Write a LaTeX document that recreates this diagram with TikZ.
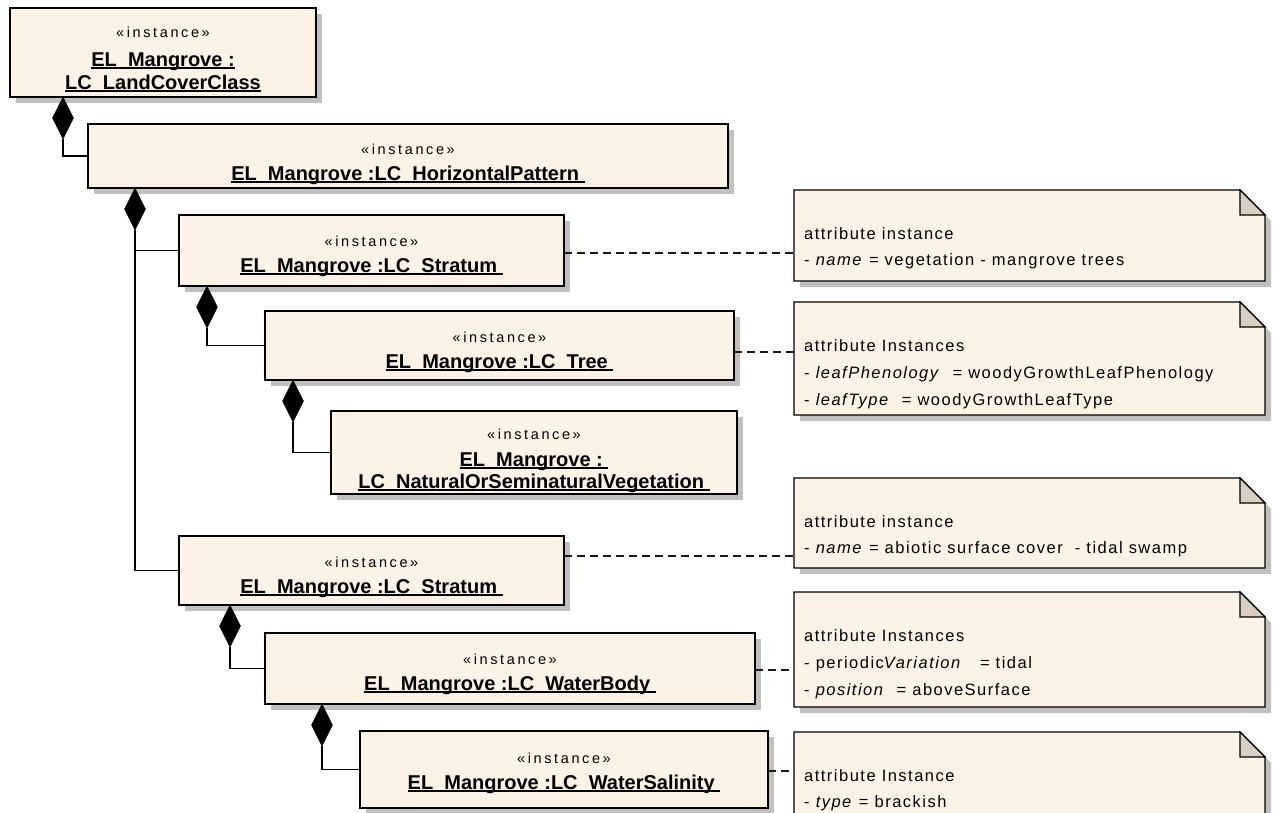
\documentclass[tikz,border=0pt]{standalone}
\usepackage{fontspec}
\setmainfont{Liberation Sans}
\newfontfamily\notefont[LetterSpace=9]{Liberation Sans}
\newfontfamily\stfont[LetterSpace=18]{Liberation Sans}
\usetikzlibrary{shapes.geometric}
\definecolor{umlfill}{RGB}{252,243,230}
\definecolor{foldfill}{RGB}{216,207,192}
\definecolor{shadowc}{RGB}{192,192,192}
\newsavebox\ulb
\newcommand\ul[1]{\sbox\ulb{#1}\rlap{\rule[-2.6pt]{\wd\ulb}{1.3pt}}\usebox\ulb}
\newcommand\ubox[5]{%
  \fill[shadowc] (#2+6,#3+6) rectangle (#4+6,#5+6);
  \node[umlbox, minimum width={(#4)-(#2)}, minimum height={(#5)-(#3)}] (#1) at ({((#2)+(#4))/2},{((#3)+(#5))/2}) {};
}
\newcommand\unote[5]{%
  \fill[shadowc] (#2+6,#3+6) -- (#4-25+6,#3+6) -- (#4+6,#3+25+6) -- (#4+6,#5+6) -- (#2+6,#5+6) -- cycle;
  \draw[line width=1.4pt, fill=umlfill, line join=miter] (#2,#3) -- (#4-25,#3) -- (#4,#3+25) -- (#4,#5) -- (#2,#5) -- cycle;
  \draw[line width=1.2pt, fill=foldfill] (#4-25,#3) -- (#4-25,#3+25) -- (#4,#3+25) -- cycle;
  \node[inner sep=0pt, outer sep=0pt, minimum width={(#4)-(#2)}, minimum height={(#5)-(#3)}] (#1) at ({((#2)+(#4))/2},{((#3)+(#5))/2}) {};
}
\begin{document}
\begin{tikzpicture}[x=1pt, y=-1pt,
  umlbox/.style={draw=black, line width=1.4pt, fill=umlfill, inner sep=0pt, outer sep=0pt},
  stereo/.style={anchor=base, inner sep=0pt, font=\stfont\fontsize{14.5}{17}\selectfont},
  objname/.style={anchor=base, inner sep=0pt, font=\bfseries\fontsize{20}{22}\selectfont},
  notetext/.style={anchor=base west, inner sep=0pt, font=\notefont\fontsize{16.5}{19}\selectfont},
  comp/.style={diamond, fill=black, draw=black, line width=0.4pt, inner sep=0pt, outer sep=0pt, minimum width=21pt, minimum height=42pt, anchor=north},
  link/.style={line width=1.3pt, draw=black},
  notelink/.style={line width=1.1pt, draw=black!90, dash pattern=on 8pt off 5pt}]
\useasboundingbox (0,0) rectangle (1274,812);
\fill[white] (0,0) rectangle (1274,812);
\clip (0,0) rectangle (1274,812);

% boxes
\ubox{b1}{10}{8}{316}{97}
\ubox{b2}{88}{124}{728}{188}
\ubox{b3}{179}{215}{564}{286}
\ubox{b4}{265}{311}{734}{380}
\ubox{b5}{331}{411}{737}{494}
\ubox{b6}{179}{536}{564}{605}
\ubox{b7}{265}{633}{755}{704}
\ubox{b8}{360}{731}{768}{808}

% notes
\unote{n1}{794}{190}{1265}{281}
\unote{n2}{794}{302}{1265}{415}
\unote{n3}{794}{478}{1265}{568}
\unote{n4}{794}{592}{1265}{707}
\unote{n5}{794}{732}{1265}{822}

% box texts
\node[stereo] (b1s) at (163,37) {«instance»};
\node[objname] (b1a) at (163,66) {\ul{EL\_Mangrove :}};
\node[objname] (b1b) at (163,89) {\ul{LC\_LandCoverClass}};

\node[stereo] (b2s) at (408,154) {«instance»};
\node[objname] (b2a) at (408,180) {\ul{EL\_Mangrove :LC\_HorizontalPattern\ }};

\node[stereo] (b3s) at (371.5,246) {«instance»};
\node[objname] (b3a) at (371.5,272) {\ul{EL\_Mangrove :LC\_Stratum\ }};

\node[stereo] (b4s) at (499.5,342) {«instance»};
\node[objname] (b4a) at (499.5,368) {\ul{EL\_Mangrove :LC\_Tree\ }};

\node[stereo] (b5s) at (534,439) {«instance»};
\node[objname] (b5a) at (534,466) {\ul{EL\_Mangrove :\ }};
\node[objname] (b5b) at (534,488) {\ul{LC\_NaturalOrSeminaturalVegetation\ }};

\node[stereo] (b6s) at (371.5,567) {«instance»};
\node[objname] (b6a) at (371.5,593) {\ul{EL\_Mangrove :LC\_Stratum\ }};

\node[stereo] (b7s) at (510,664) {«instance»};
\node[objname] (b7a) at (510,690) {\ul{EL\_Mangrove :LC\_WaterBody\ }};

\node[stereo] (b8s) at (564,763) {«instance»};
\node[objname] (b8a) at (564,789) {\ul{EL\_Mangrove :LC\_WaterSalinity\ }};

% note texts
\node[notetext] (n1a) at (804,239) {attribute instance};
\node[notetext] (n1b) at (804,265.5) {- \textit{name} = vegetation - mangrove trees};

\node[notetext] (n2a) at (804,351) {attribute Instances};
\node[notetext] (n2b) at (804,378) {- \textit{leafPhenology}~~= woodyGrowthLeafPhenology};
\node[notetext] (n2c) at (804,405) {- \textit{leafType}~~= woodyGrowthLeafType};

\node[notetext] (n3a) at (804,527) {attribute instance};
\node[notetext] (n3b) at (804,553.5) {- \textit{name} = abiotic surface cover~~- tidal swamp};

\node[notetext] (n4a) at (804,641) {attribute Instances};
\node[notetext] (n4b) at (804,668) {- periodic\textit{Variation}~~~= tidal};
\node[notetext] (n4c) at (804,695) {- \textit{position}~~= aboveSurface};

\node[notetext] (n5a) at (804,781) {attribute Instance};
\node[notetext] (n5b) at (804,807.5) {- \textit{type} = brackish};

% composition diamonds
\node[comp] (d1) at (63,97) {};
\node[comp] (d2) at (135,188) {};
\node[comp] (d3) at (207,286) {};
\node[comp] (d4) at (293,380) {};
\node[comp] (d5) at (230,605) {};
\node[comp] (d6) at (322,704) {};

% composition connectors
\draw[link] (d1.south) |- (b2.west);
\draw[link] (d2.south) |- (b3.west);
\draw[link] (d2.south) |- (b6.west);
\draw[link] (d3.south) |- (b4.west);
\draw[link] (d4.south) |- (b5.west);
\draw[link] (d5.south) |- (b7.west);
\draw[link] (d6.south) |- (b8.west);

% note links
\coordinate (y1) at (0,253);
\coordinate (y2) at (0,352);
\coordinate (y3) at (0,556);
\coordinate (y4) at (0,670);
\coordinate (y5) at (0,771);
\draw[notelink] (b3.east |- y1) -- (n1.west |- y1);
\draw[notelink] (b4.east |- y2) -- (n2.west |- y2);
\draw[notelink] (b6.east |- y3) -- (n3.west |- y3);
\draw[notelink] (b7.east |- y4) -- (n4.west |- y4);
\draw[notelink] (b8.east |- y5) -- (n5.west |- y5);
\end{tikzpicture}
\end{document}
